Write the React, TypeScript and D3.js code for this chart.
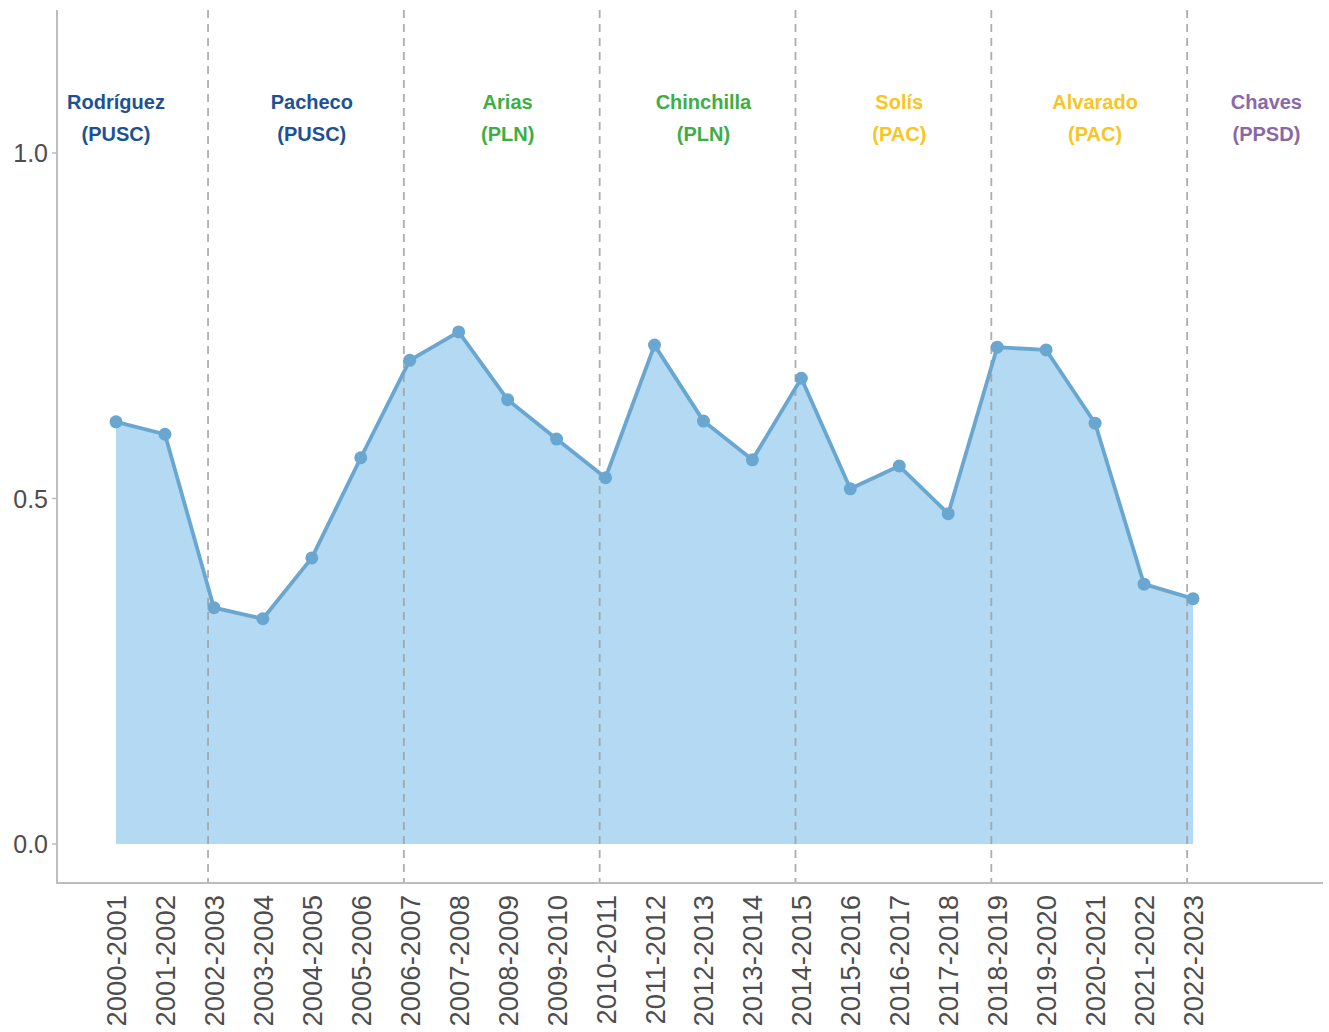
import React from "react";
import * as d3 from "d3";

const periods = ["2000-2001","2001-2002","2002-2003","2003-2004","2004-2005","2005-2006","2006-2007","2007-2008","2008-2009","2009-2010","2010-2011","2011-2012","2012-2013","2013-2014","2014-2015","2015-2016","2016-2017","2017-2018","2018-2019","2019-2020","2020-2021","2021-2022","2022-2023"];
const values = [0.611,0.593,0.342,0.326,0.414,0.559,0.700,0.741,0.643,0.586,0.530,0.722,0.612,0.556,0.674,0.514,0.547,0.478,0.719,0.715,0.609,0.376,0.355];
const presidents = ["Rodríguez","Pacheco","Arias","Chinchilla","Solís","Alvarado","Chaves"];
const parties = ["(PUSC)","(PUSC)","(PLN)","(PLN)","(PAC)","(PAC)","(PPSD)"];
const labelPos = [0,4,8,12,16,20,23.5];
const partyColors: Record<string,string> = {"(PUSC)":"#1C5294","(PLN)":"#3DAE45","(PAC)":"#F7C623","(PPSD)":"#8A68A8"};
const changeLines = [1.88,5.88,9.88,13.88,17.88,21.88];
const yTicks = [0,0.5,1.0];

export default function App() {
  const W = 1329, H = 1032;
  const x = d3.scaleLinear().domain([0,22]).range([116,1193]);
  const y = d3.scaleLinear().domain([0,1]).range([844,153]);
  const axisLeft = 57, axisBottom = 883, top = 10, right = 1323;
  const pts = values.map((v,i)=>[i,v] as [number,number]);
  const area = d3.area<[number,number]>().x(d=>x(d[0])).y0(y(0)).y1(d=>y(d[1]))(pts) || "";
  const line = d3.line<[number,number]>().x(d=>x(d[0])).y(d=>y(d[1]))(pts) || "";
  const font = "'Liberation Sans', Arial, sans-serif";
  return (
    <svg width={W} height={H} style={{position:"absolute",left:0,top:0,background:"#fff"}} fontFamily={font}>
      <path d={area} fill="#B3D9F3" />
      {changeLines.map((c,i)=>(
        <line key={i} x1={x(c)} x2={x(c)} y1={top} y2={axisBottom} stroke="#A0A0A0" strokeWidth={1.8} strokeDasharray="8,6" opacity={0.85}/>
      ))}
      <path d={line} fill="none" stroke="#6AA7D0" strokeWidth={3.8} strokeLinejoin="round"/>
      {pts.map((d,i)=>(<circle key={i} cx={x(d[0])} cy={y(d[1])} r={6.5} fill="#6AA7D0"/>))}
      {presidents.map((p,i)=>(
        <g key={i} fill={partyColors[parties[i]]} fontWeight="bold" fontSize={20} textAnchor="middle">
          <text x={x(labelPos[i])} y={y(1.074)+7}>{p}</text>
          <text x={x(labelPos[i])} y={y(1.027)+7}>{parties[i]}</text>
        </g>
      ))}
      <line x1={axisLeft} x2={axisLeft} y1={top} y2={axisBottom+1} stroke="#BDBDBD" strokeWidth={2}/>
      <line x1={axisLeft-1} x2={right} y1={axisBottom} y2={axisBottom} stroke="#BDBDBD" strokeWidth={2}/>
      {yTicks.map((t,i)=>(
        <g key={i}>
          <line x1={axisLeft-5} x2={axisLeft} y1={y(t)} y2={y(t)} stroke="#BDBDBD" strokeWidth={1.5}/>
          <text x={axisLeft-9} y={y(t)+9} textAnchor="end" fontSize={25} fill="#4D4D4D">{t.toFixed(1)}</text>
        </g>
      ))}
      {periods.map((p,i)=>(
        <text key={i} transform={`translate(${x(i)+10},${axisBottom+12}) rotate(-90)`} textAnchor="end" fontSize={27.5} fill="#4D4D4D">{p}</text>
      ))}
    </svg>
  );
}
